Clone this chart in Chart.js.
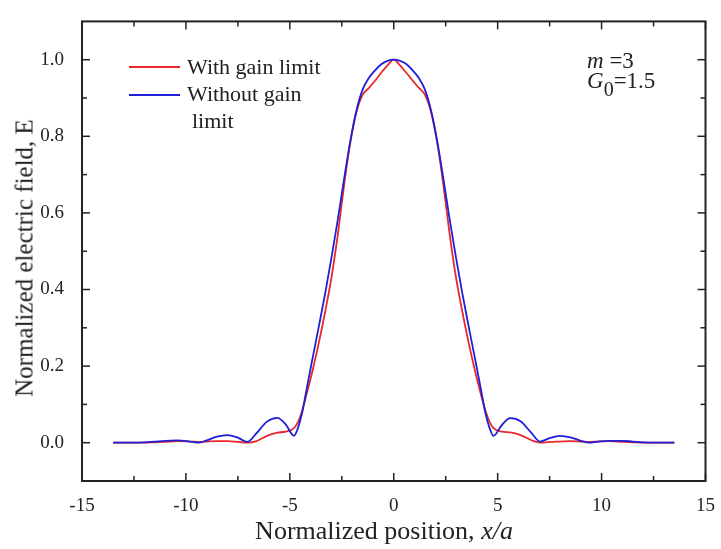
<!DOCTYPE html>
<html>
<head>
<meta charset="utf-8">
<script src="https://cdn.jsdelivr.net/npm/chart.js@4.4.0/dist/chart.umd.min.js"></script>
<style>
  body { margin: 0; background: #fff; }
  #wrap { position: relative; width: 721px; height: 549px; font-family: "Liberation Serif", "Times New Roman", serif; color: #222; }
  #wrap .txt { position: absolute; white-space: nowrap; }
  .swatch { position: absolute; width: 51px; height: 2px; }
</style>
</head>
<body>
<div id="wrap">
  <canvas id="chart" width="721" height="549"></canvas>

  <div class="swatch" style="left:129px;top:66px;background:#e8282b"></div>
  <div class="txt" style="left:187px;top:56px;font-size:22px;line-height:22px">With gain limit</div>
  <div class="swatch" style="left:129px;top:94px;background:#1f1fd8"></div>
  <div class="txt" style="left:187px;top:83px;font-size:22px;line-height:22px">Without gain</div>
  <div class="txt" style="left:192px;top:110px;font-size:22px;line-height:22px">limit</div>

  <div class="txt" style="left:587px;top:49px;font-size:23px;line-height:23px"><i>m</i> =3</div>
  <div class="txt" style="left:587px;top:69px;font-size:23px;line-height:23px"><i>G</i><span style="font-size:20px;position:relative;top:8px">0</span>=1.5</div>

  <div class="txt" style="left:384px;top:518px;font-size:26px;line-height:26px;transform:translateX(-50%)">Normalized position, <i>x/a</i></div>
  <div class="txt" style="left:24px;top:258px;font-size:25px;line-height:25px;transform:translate(-50%,-50%) rotate(-90deg)">Normalized electric field, E</div>
</div>
<script>
// normalized position x/a
const positions = [
  -13.5, -12.5, -12.0, -11.5, -11.0, -10.4, -9.8, -9.35, -9.0, -8.5, -8.0, -7.5,
  -7.05, -6.6, -6.1, -5.6, -5.2, -4.8, -4.6, -4.4, -4.2, -3.9, -3.6, -3.3,
  -3.0, -2.7, -2.4, -2.1, -1.8, -1.5, -1.2, -0.9, -0.6, -0.3, 0,
  0.3, 0.6, 0.9, 1.2, 1.5, 1.8, 2.1, 2.4, 2.7, 3.0, 3.3, 3.6,
  3.9, 4.2, 4.4, 4.6, 4.8, 5.2, 5.6, 6.1, 6.6, 7.05, 7.5, 8.0,
  8.5, 9.0, 9.4, 9.8, 10.4, 11.0, 11.5, 12.0, 12.5, 13.5
];

// with gain limit (red)
const withLimit = [
  0, 0, 0, 0.001, 0.002, 0.004, 0.003, 0.002, 0.003, 0.004, 0.004, 0.002,
  0.0, 0.004, 0.018, 0.026, 0.029, 0.038, 0.055, 0.085, 0.125, 0.19, 0.262, 0.342,
  0.43, 0.54, 0.668, 0.78, 0.862, 0.908, 0.926, 0.945, 0.966, 0.985, 1.0,
  0.985, 0.966, 0.946, 0.927, 0.908, 0.862, 0.78, 0.668, 0.54, 0.43, 0.342, 0.262,
  0.19, 0.125, 0.086, 0.056, 0.038, 0.029, 0.027, 0.02, 0.007, 0.0, 0.002, 0.003,
  0.004, 0.003, 0.002, 0.003, 0.004, 0.002, 0.001, 0, 0, 0
];

// without gain limit (blue)
const withoutLimit = [
  0, 0, 0.001, 0.003, 0.005, 0.006, 0.003, 0.0, 0.006, 0.016, 0.02, 0.013,
  0.002, 0.025, 0.055, 0.065, 0.048, 0.018, 0.04, 0.08, 0.138, 0.222, 0.305, 0.39,
  0.482, 0.58, 0.685, 0.785, 0.866, 0.922, 0.952, 0.972, 0.988, 0.997, 1.0,
  0.997, 0.989, 0.973, 0.953, 0.922, 0.866, 0.785, 0.685, 0.58, 0.482, 0.39, 0.305,
  0.222, 0.138, 0.08, 0.04, 0.018, 0.046, 0.064, 0.056, 0.027, 0.003, 0.012, 0.018,
  0.014, 0.005, 0.0, 0.003, 0.005, 0.005, 0.003, 0.001, 0, 0
];

const xTicks = [-15, -10, -5, 0, 5, 10, 15];
const xMinor = [-12.5, -7.5, -2.5, 2.5, 7.5, 12.5];
const yTicks = [0, 0.2, 0.4, 0.6, 0.8, 1.0];
const yMinor = [0.1, 0.3, 0.5, 0.7, 0.9];

const toPoints = (ys) => positions.map((x, i) => ({ x: x, y: ys[i] }));

// frame + inward tick marks on all four sides
const frame = {
    id: 'frame',
    afterDraw(chart) {
        const { ctx, chartArea: a, scales } = chart;
        const line = (x1, y1, x2, y2) => {
            ctx.beginPath();
            ctx.moveTo(x1, y1);
            ctx.lineTo(x2, y2);
            ctx.stroke();
        };
        ctx.save();
        ctx.strokeStyle = '#222';
        ctx.lineWidth = 1.5;
        const xt = (vals, len) => vals.forEach((v) => {
            const px = scales.x.getPixelForValue(v);
            line(px, a.bottom, px, a.bottom - len);
            line(px, a.top, px, a.top + len);
        });
        const yt = (vals, len) => vals.forEach((v) => {
            const py = scales.y.getPixelForValue(v);
            line(a.left, py, a.left + len, py);
            line(a.right, py, a.right - len, py);
        });
        xt(xTicks, 8);
        xt(xMinor, 5);
        yt(yTicks, 8);
        yt(yMinor, 5);
        ctx.lineWidth = 2;
        ctx.strokeRect(a.left, a.top, a.right - a.left, a.bottom - a.top);
        ctx.restore();
    }
};

const tickFont = { family: 'Liberation Serif', size: 19 };

new Chart(document.getElementById('chart'), {
    type: 'line',
    data: {
        datasets: [
            {
                label: 'Without gain limit',
                data: toPoints(withoutLimit),
                borderColor: '#1f1fd8',
                borderWidth: 1.8,
                pointRadius: 0,
                cubicInterpolationMode: 'monotone'
            },
            {
                label: 'With gain limit',
                data: toPoints(withLimit),
                borderColor: '#e8282b',
                borderWidth: 1.8,
                pointRadius: 0,
                cubicInterpolationMode: 'monotone'
            }
        ]
    },
    options: {
        responsive: false,
        animation: false,
        devicePixelRatio: 1,
        layout: { padding: { top: 14, right: 10, left: 0, bottom: 0 } },
        plugins: {
            legend: { display: false },
            tooltip: { enabled: false }
        },
        scales: {
            x: {
                type: 'linear',
                min: -15,
                max: 15,
                afterBuildTicks: (axis) => { axis.ticks = xTicks.map((v) => ({ value: v })); },
                afterFit: (axis) => { axis.height = 68; },
                grid: { display: false },
                border: { display: false },
                ticks: { font: tickFont, color: '#222', padding: 6, maxRotation: 0 }
            },
            y: {
                min: -0.1,
                max: 1.1,
                afterBuildTicks: (axis) => { axis.ticks = yTicks.map((v) => ({ value: v })); },
                afterFit: (axis) => { axis.width = 82; },
                grid: { display: false },
                border: { display: false },
                ticks: {
                    font: tickFont,
                    color: '#222',
                    padding: 10,
                    callback: (v) => Number(v).toFixed(1)
                }
            }
        }
    },
    plugins: [frame]
});
</script>
</body>
</html>
